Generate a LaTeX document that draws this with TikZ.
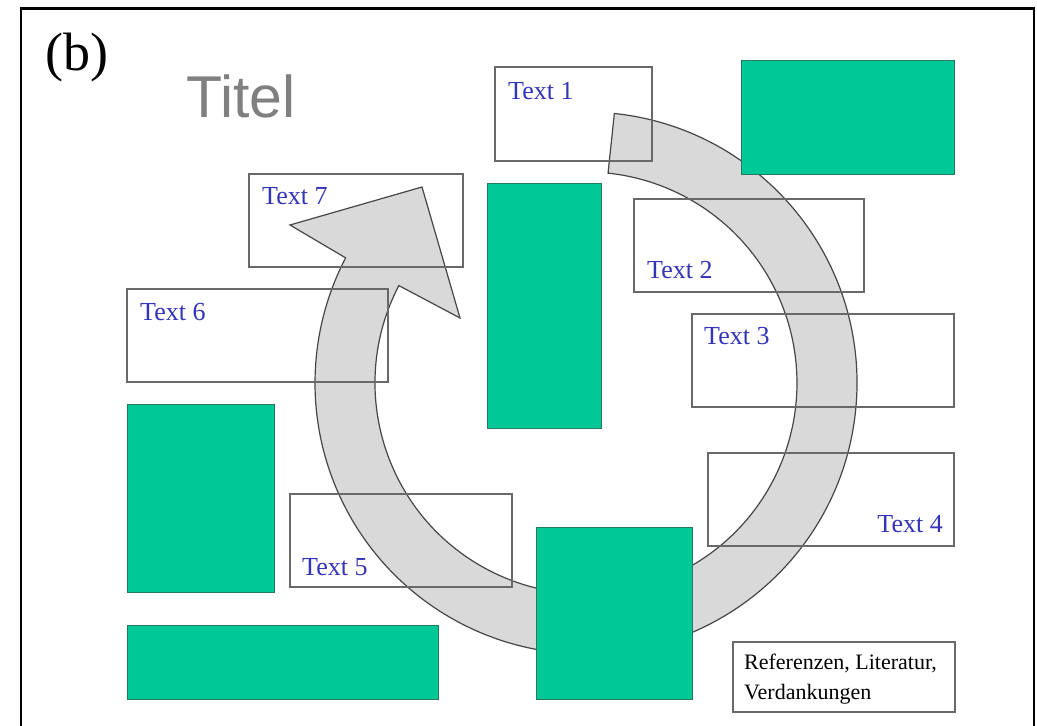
\documentclass[tikz,border=0pt]{standalone}
\usepackage{fontspec}
\setmainfont{Liberation Serif}
\newfontfamily\headfont{Liberation Sans}
\usetikzlibrary{fit,calc}

\definecolor{panelgreen}{RGB}{0,201,151}
\definecolor{panelgreenedge}{RGB}{40,120,95}
\definecolor{cyclegray}{RGB}{217,217,217}
\definecolor{cycleedge}{RGB}{70,70,70}
\definecolor{boxedge}{RGB}{105,105,105}
\definecolor{labelblue}{RGB}{52,52,185}
\definecolor{titlegray}{RGB}{128,128,128}

\tikzset{
  textbox/.style={draw=boxedge, line width=1.3pt, inner sep=0pt, fill=none},
  greenbox/.style={draw=panelgreenedge, line width=0.9pt, fill=panelgreen, inner sep=0pt},
  cyclearrow/.style={draw=cycleedge, line width=1.2pt, fill=cyclegray, line join=miter},
  boxlabel/.style={text=labelblue, font=\fontsize{26}{30}\selectfont, inner sep=0pt},
  reflabel/.style={text=black, font=\fontsize{22}{30}\selectfont, inner sep=0pt, align=left},
  frameline/.style={draw=black, line width=2.6pt}
}

\begin{document}
\begin{tikzpicture}[x=1pt,y=1pt]
  \useasboundingbox (0,0) rectangle (1037,726);
  \fill[white] (0,0) rectangle (1037,726);

  % outer frame (open at the bottom)
  \draw[frameline] (21,-5) -- (21,717.5) -- (1034,717.5) -- (1034,-5);

  % panel letter and heading
  \node[anchor=base west, inner sep=0pt, font=\fontsize{54}{60}\selectfont] (panel) at (45,655) {(b)};
  \node[anchor=base west, inner sep=0pt, text=titlegray, font=\headfont\fontsize{59}{66}\selectfont] (title) at (186,608) {Titel};

  % cycle arrow: ring from the top running clockwise, head at upper left
  \coordinate (ctr) at (586,343);
  \path[cyclearrow]
    ($(ctr)+(84:271)$) arc[start angle=84, end angle=-207.5, radius=271]
    -- (290,501) -- (422,539) -- (460,408)
    -- ($(ctr)+(152.5:211)$) arc[start angle=-207.5, end angle=84, radius=211]
    -- cycle;

  % text frames
  \node[textbox, fit={(495,565)(652,659)}] (t1) {};
  \node[textbox, fit={(634,434)(864,527)}] (t2) {};
  \node[textbox, fit={(692,319)(954,412)}] (t3) {};
  \node[textbox, fit={(708,180)(954,273)}] (t4) {};
  \node[textbox, fit={(290,139)(512,232)}] (t5) {};
  \node[textbox, fit={(127,344)(388,437)}] (t6) {};
  \node[textbox, fit={(249,459)(463,552)}] (t7) {};
  \node[textbox, fit={(733,14)(955,84)}] (refs) {};

  % green panels
  \node[greenbox, fit={(741,552)(954,666)}] (g1) {};
  \node[greenbox, fit={(487,298)(601,543)}] (g2) {};
  \node[greenbox, fit={(127,134)(274,322)}] (g3) {};
  \node[greenbox, fit={(127,27)(438,101)}] (g4) {};
  \node[greenbox, fit={(536,27)(692,199)}] (g5) {};

  % labels
  \node[boxlabel, anchor=base west] (l1) at (508,626) {Text 1};
  \node[boxlabel, anchor=base west] (l2) at (647,447) {Text 2};
  \node[boxlabel, anchor=base west] (l3) at (704,381) {Text 3};
  \node[boxlabel, anchor=base east] (l4) at (943,193) {Text 4};
  \node[boxlabel, anchor=base west] (l5) at (302,150) {Text 5};
  \node[boxlabel, anchor=base west] (l6) at (140,405) {Text 6};
  \node[boxlabel, anchor=base west] (l7) at (262,521) {Text 7};
  \node[reflabel, anchor=base west] (lr1) at (744,56) {Referenzen, Literatur,};
  \node[reflabel, anchor=base west] (lr2) at (744,26) {Verdankungen};
\end{tikzpicture}
\end{document}
